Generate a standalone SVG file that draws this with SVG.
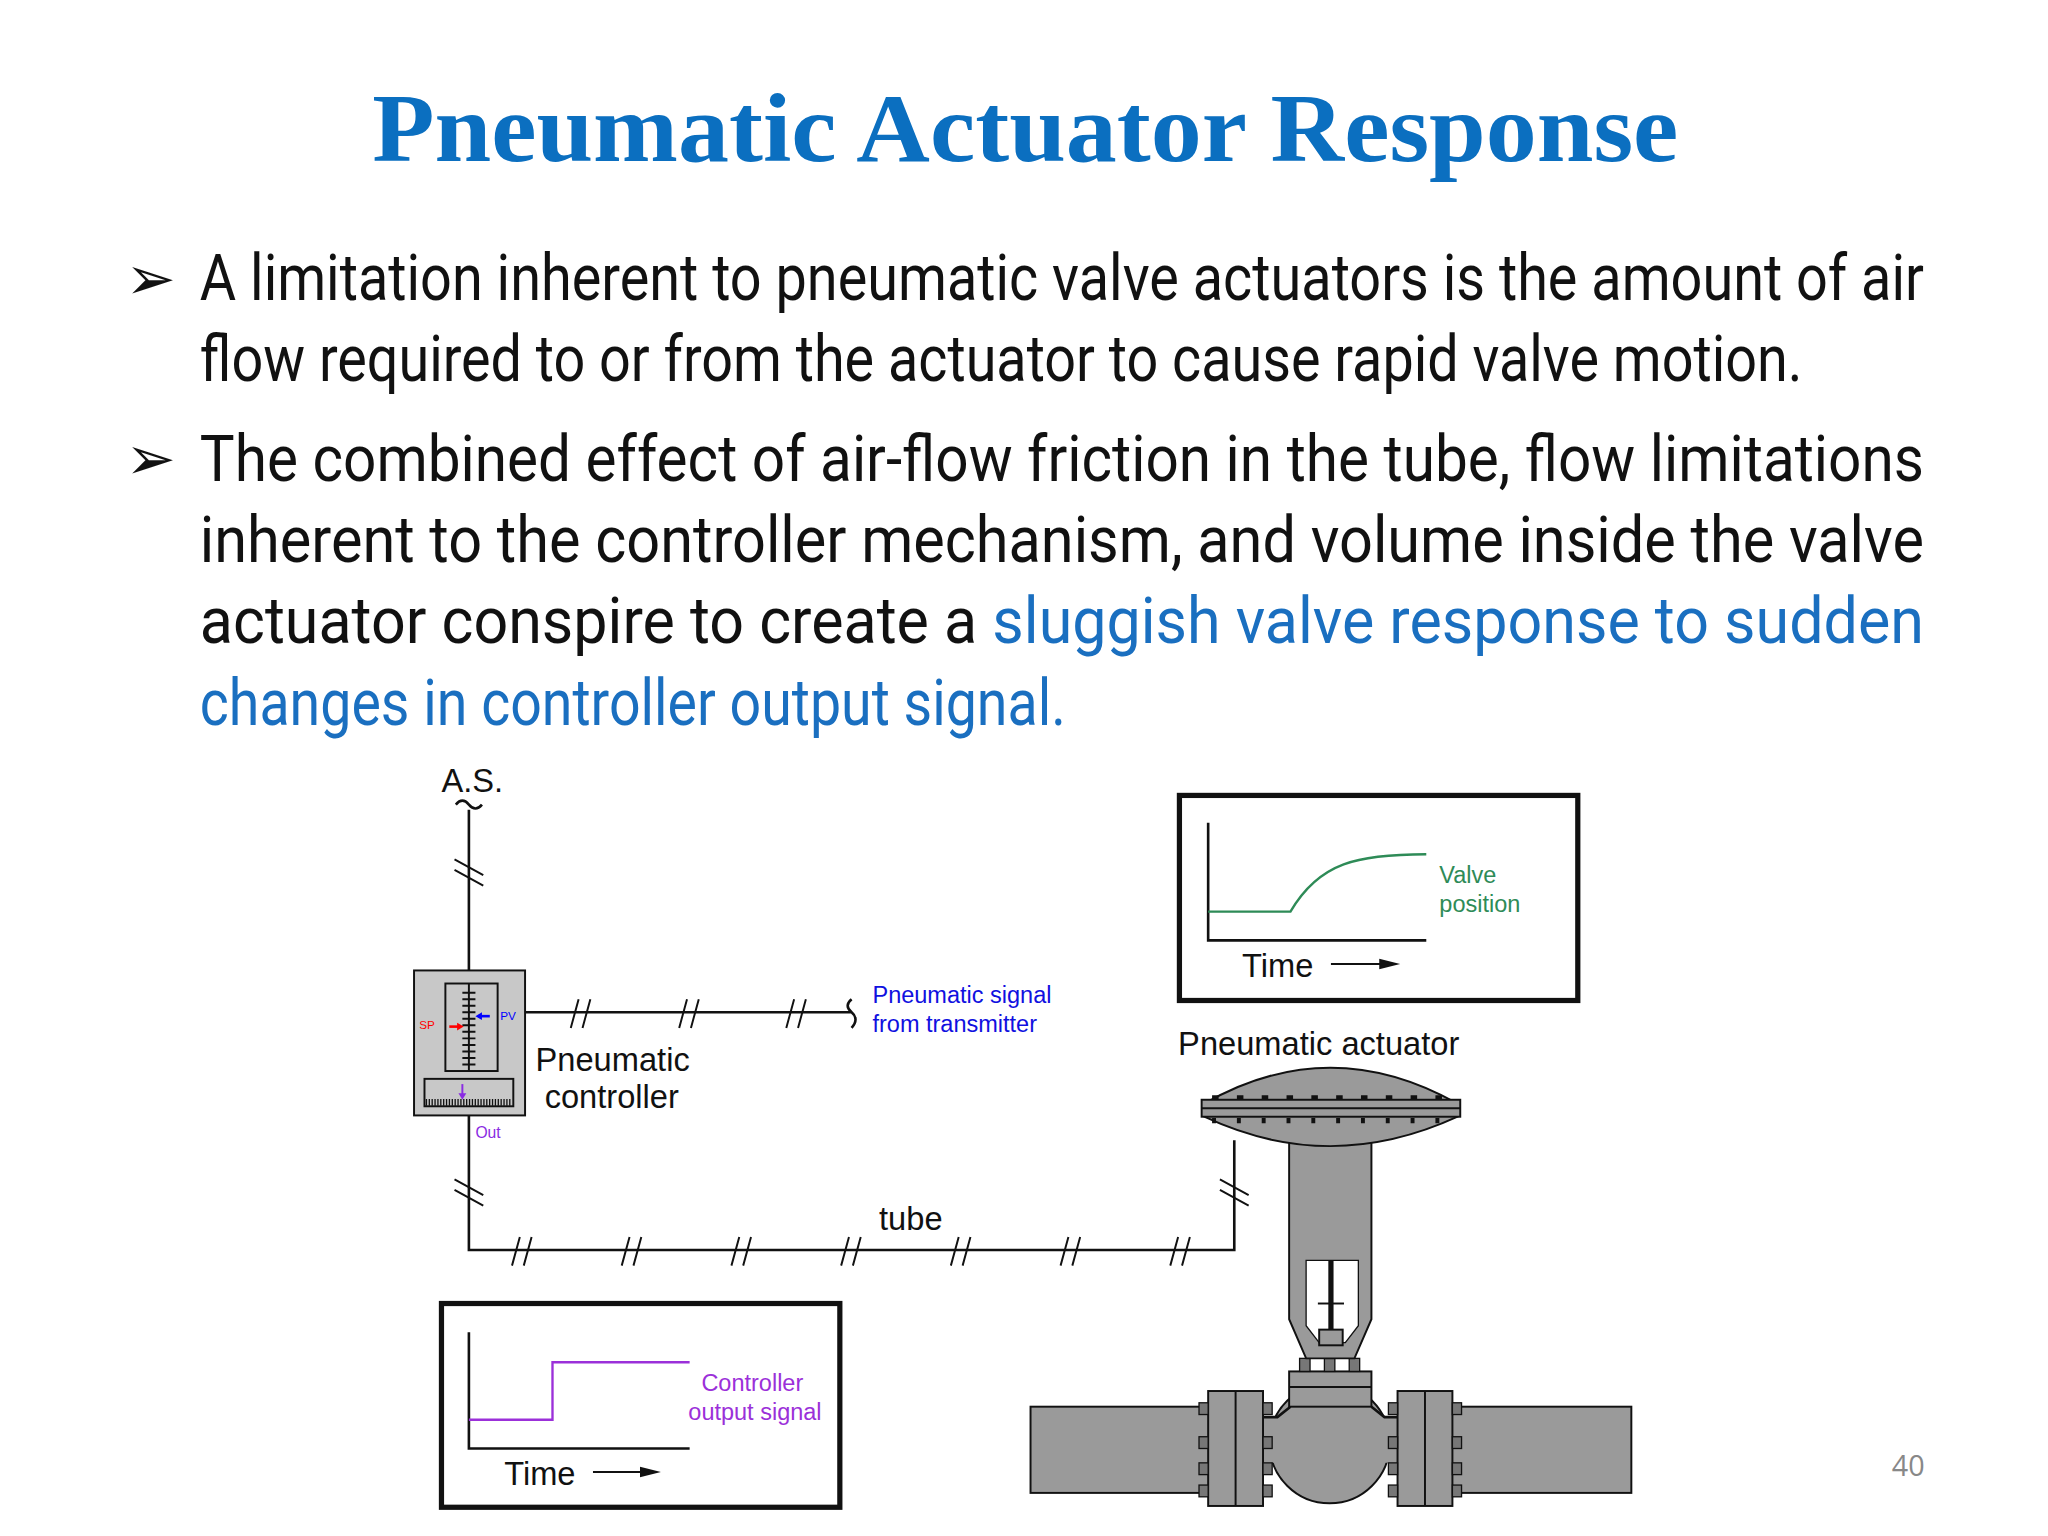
<svg xmlns="http://www.w3.org/2000/svg" width="2048" height="1536" viewBox="0 0 2048 1536">
<style>
.b{font-family:Roboto,"Liberation Sans",sans-serif;font-size:50px;fill:#111}
.bl{fill:#1a6fc0}
.s{font-family:"Liberation Sans",Arial,sans-serif;fill:#111}
.ln{stroke:#111;stroke-width:2;fill:none}
.h{stroke:#111;stroke-width:1.5}
.g{fill:#9a9a9a;stroke:#111;stroke-width:1.5}
</style>
<rect width="2048" height="1536" fill="#fff"/>
<g transform="scale(1.30612)">
<text x="285" y="123" textLength="1000" lengthAdjust="spacingAndGlyphs" font-family="'Liberation Serif',serif" font-weight="bold" font-size="74" fill="#0b6fc0">Pneumatic Actuator Response</text>
<g id="bullets">
<text x="96" y="229" font-family="'DejaVu Sans',sans-serif" font-size="46" fill="#111">➢</text>
<text x="96" y="367" font-family="'DejaVu Sans',sans-serif" font-size="46" fill="#111">➢</text>
<text class="b" x="153" y="230" textLength="1320" lengthAdjust="spacingAndGlyphs">A limitation inherent to pneumatic valve actuators is the amount of air</text>
<text class="b" x="153" y="292" textLength="1227" lengthAdjust="spacingAndGlyphs">flow required to or from the actuator to cause rapid valve motion.</text>
<text class="b" x="153" y="368" textLength="1320" lengthAdjust="spacingAndGlyphs">The combined effect of air-flow friction in the tube, flow limitations</text>
<text class="b" x="153" y="430" textLength="1320" lengthAdjust="spacingAndGlyphs">inherent to the controller mechanism, and volume inside the valve</text>
<text class="b" x="153" y="492" textLength="1320" lengthAdjust="spacingAndGlyphs">actuator conspire to create a <tspan class="bl">sluggish valve response to sudden</tspan></text>
<text class="b bl" x="153" y="555" textLength="663" lengthAdjust="spacingAndGlyphs">changes in controller output signal.</text>
</g>
<text x="1461" y="1130" text-anchor="middle" font-family="'Open Sans',sans-serif" font-size="22" fill="#888">40</text>

<g id="connectors">
<path class="ln" d="M359 620V743M349 616q5-6 10 0t10 0"/>
<path class="h" d="M348 658l22 12M348 666l22 12"/>
<path class="ln" d="M402 775H652M652 765q-6 5 0 10t0 12"/>
<path class="h" d="M437 787l6-22M446 787l6-22M520 787l6-22M529 787l6-22M602 787l6-22M611 787l6-22"/>
<path class="ln" d="M359 854V957H945V873"/>
<path class="h" d="M348 903l22 12M348 911l22 12M934 903l22 12M934 911l22 12"/>
<path class="h" d="M392 969l6-22M401 969l6-22M476 969l6-22M485 969l6-22M560 969l6-22M569 969l6-22M644 969l6-22M653 969l6-22M728 969l6-22M737 969l6-22M812 969l6-22M821 969l6-22M896 969l6-22M905 969l6-22"/>
</g>
<text class="s" x="338" y="606" font-size="25">A.S.</text>
<text x="668" y="768" font-family="'Liberation Sans',sans-serif" font-size="18" fill="#1010e0">Pneumatic signal</text>
<text x="668" y="790" font-family="'Liberation Sans',sans-serif" font-size="18" fill="#1010e0">from transmitter</text>
<text class="s" x="673" y="942" font-size="25">tube</text>

<g id="controller">
<rect x="317" y="743" width="85" height="111" fill="#c8c8c8" stroke="#111" stroke-width="1.5"/>
<rect x="341" y="753" width="40" height="67" fill="#c8c8c8" stroke="#111" stroke-width="1.5"/>
<path class="h" d="M359 753V820M354 760h10M354 765h10M354 770h10M354 775h10M354 780h10M354 785h10M354 790h10M354 795h10M354 800h10M354 805h10M354 810h10M354 815h10"/>
<path d="M344 786h8" stroke="red" stroke-width="2"/><path d="M355 786l-5-3v6z" fill="red"/>
<path d="M366 778h9" stroke="blue" stroke-width="2"/><path d="M364 778l5-3v6z" fill="blue"/>
<text x="321" y="788" font-family="'Liberation Sans',sans-serif" font-size="9" fill="red">SP</text>
<text x="383" y="781" font-family="'Liberation Sans',sans-serif" font-size="9" fill="blue">PV</text>
<rect x="325" y="826" width="68" height="21" fill="#c8c8c8" stroke="#111" stroke-width="1.5"/>
<path d="M326 844h66" stroke="#111" stroke-width="5" stroke-dasharray="1 1.2"/>
<path d="M354 830v9" stroke="#8a2be2" stroke-width="1.5"/><path d="M354 842l-3-5h6z" fill="#8a2be2"/>
<text class="s" x="410" y="820" font-size="25">Pneumatic</text>
<text class="s" x="417" y="848" font-size="25">controller</text>
<text x="364" y="871" font-family="'Liberation Sans',sans-serif" font-size="12" fill="#8a2be2">Out</text>
</g>

<g id="valve-graph">
<rect x="903" y="609" width="305" height="157" fill="#fff" stroke="#111" stroke-width="4"/>
<path class="ln" d="M925 630V720H1092" stroke-width="1.5"/>
<path d="M925 698H988C1010 660 1040 654 1092 654" stroke="#2e8b57" stroke-width="1.8" fill="none"/>
<text x="1102" y="676" font-family="'Liberation Sans',sans-serif" font-size="18" fill="#2e8b57">Valve</text>
<text x="1102" y="698" font-family="'Liberation Sans',sans-serif" font-size="18" fill="#2e8b57">position</text>
<text class="s" x="951" y="748" font-size="25">Time</text>
<path d="M1019 738H1058" stroke="#111" stroke-width="1.5"/><path d="M1072 738l-16-4v8z" fill="#111"/>
</g>

<g id="output-graph">
<rect x="338" y="998" width="305" height="156" fill="#fff" stroke="#111" stroke-width="4"/>
<path class="ln" d="M359 1020V1109H528" stroke-width="1.5"/>
<path d="M359 1087H423V1043H528" stroke="#9b30d9" stroke-width="1.8" fill="none"/>
<text x="537" y="1065" font-family="'Liberation Sans',sans-serif" font-size="18" fill="#9b30d9">Controller</text>
<text x="527" y="1087" font-family="'Liberation Sans',sans-serif" font-size="18" fill="#9b30d9">output signal</text>
<text class="s" x="386" y="1137" font-size="25">Time</text>
<path d="M454 1127H492" stroke="#111" stroke-width="1.5"/><path d="M506 1127l-16-4v8z" fill="#111"/>
</g>

<g id="actuator">
<text class="s" x="902" y="808" font-size="25">Pneumatic actuator</text>
<rect class="g" x="789" y="1077" width="140" height="66"/>
<rect class="g" x="1109" y="1077" width="140" height="66"/>
<circle class="g" cx="1018" cy="1105" r="46"/>
<path d="M967 1085H978L988 1077H1050L1060 1085H1070V1120H967Z" fill="#9a9a9a"/>
<path class="ln" d="M967 1085H978L988 1077M1050 1077L1060 1085H1070" stroke-width="1.5"/>
<rect class="g" x="925" y="1065" width="42" height="88"/><path class="h" d="M946 1065V1153"/>
<rect class="g" x="1070" y="1065" width="42" height="88"/><path class="h" d="M1091 1065V1153"/>
<g fill="#777" stroke="#111" stroke-width="1">
<rect x="918" y="1074" width="7" height="9"/><rect x="918" y="1100" width="7" height="9"/><rect x="918" y="1120" width="7" height="9"/><rect x="918" y="1137" width="7" height="9"/>
<rect x="967" y="1074" width="7" height="9"/><rect x="967" y="1100" width="7" height="9"/><rect x="967" y="1120" width="7" height="9"/><rect x="967" y="1137" width="7" height="9"/>
<rect x="1063" y="1074" width="7" height="9"/><rect x="1063" y="1100" width="7" height="9"/><rect x="1063" y="1120" width="7" height="9"/><rect x="1063" y="1137" width="7" height="9"/>
<rect x="1112" y="1074" width="7" height="9"/><rect x="1112" y="1100" width="7" height="9"/><rect x="1112" y="1120" width="7" height="9"/><rect x="1112" y="1137" width="7" height="9"/>
</g>
<rect class="g" x="987" y="1050" width="63" height="27"/><path class="h" d="M987 1062H1050"/>
<g fill="#777" stroke="#111" stroke-width="1"><rect x="995" y="1040" width="8" height="10"/><rect x="1014" y="1040" width="8" height="10"/><rect x="1033" y="1040" width="8" height="10"/></g>
<path class="g" d="M987 875H1050V1010L1037 1040H1000L987 1010Z"/>
<path d="M1000 965H1040V1015L1030 1028H1010L1000 1015Z" fill="#fff" stroke="#111" stroke-width="1"/>
<path d="M1019 965V1022" stroke="#111" stroke-width="4"/><path class="h" d="M1009 998H1029"/>
<rect class="g" x="1010" y="1018" width="18" height="12"/>
<path class="g" d="M922 845Q1018 790 1116 845V855Q1018 900 922 855Z"/>
<rect class="g" x="920" y="842" width="198" height="13"/><path class="h" d="M920 848.5H1118"/>
<path d="M928 858h180" stroke="#111" stroke-width="4" stroke-dasharray="3 16"/>
<path d="M928 840h180" stroke="#111" stroke-width="3" stroke-dasharray="5 14"/>
</g>
</g>
</svg>
